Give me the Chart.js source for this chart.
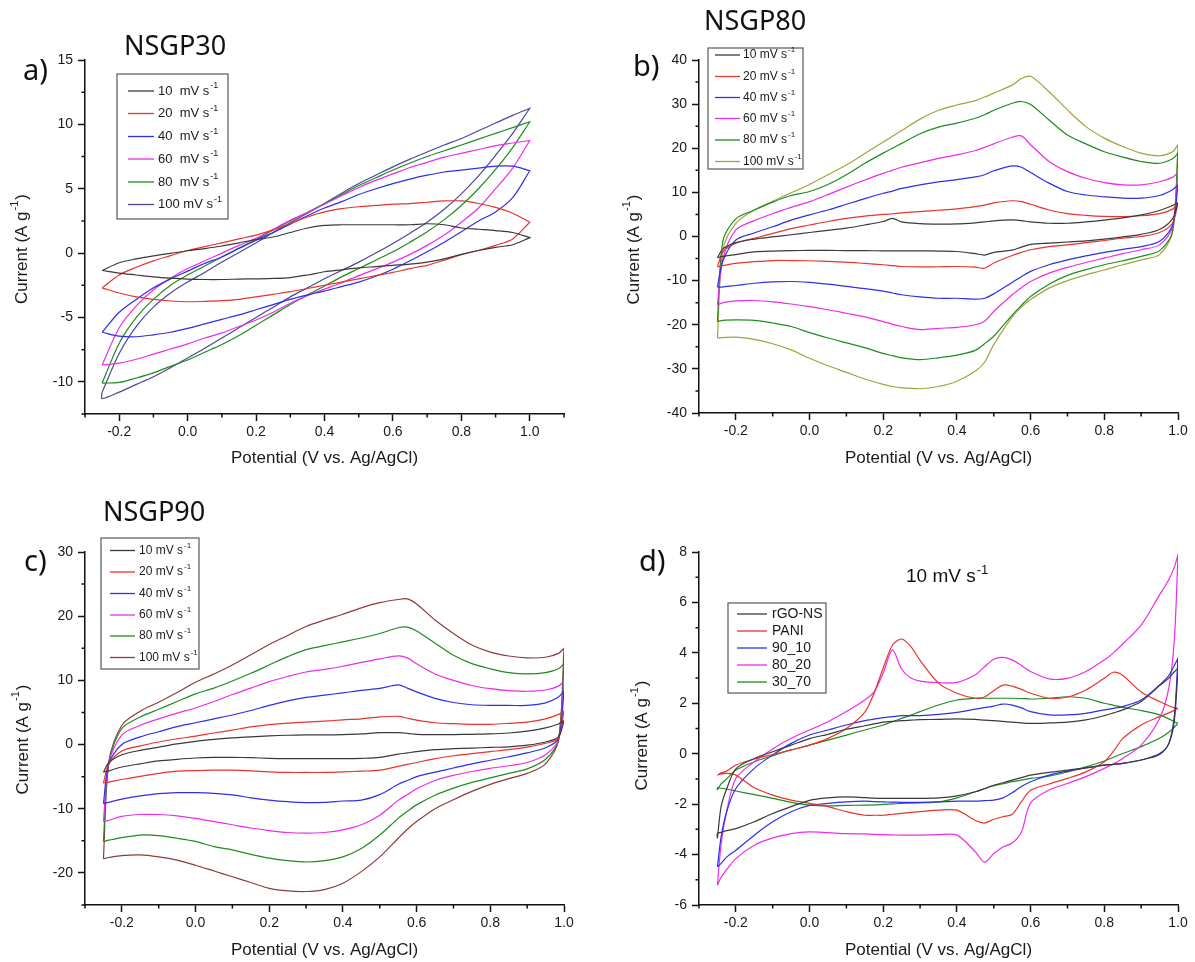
<!DOCTYPE html>
<html><head><meta charset="utf-8">
<script src="https://cdn.jsdelivr.net/npm/chart.js@4.4.1/dist/chart.umd.min.js"></script>
<style>
html,body{margin:0;padding:0;background:#fff;}
#wrap{position:relative;width:1195px;height:962px;overflow:hidden;background:#fff;}
canvas.layer{position:absolute;left:0;top:0;}
</style></head>
<body><div id="wrap">
<canvas id="cA" class="layer" width="1195" height="962"></canvas>
<canvas id="cB" class="layer" width="1195" height="962"></canvas>
<canvas id="cC" class="layer" width="1195" height="962"></canvas>
<canvas id="cD" class="layer" width="1195" height="962"></canvas>
</div>
<script>
// ---------------- tick values ----------------
const xTickValues = [-0.2, 0, 0.2, 0.4, 0.6, 0.8, 1.0];
const xMinorA = [-0.3, -0.1, 0.1, 0.3, 0.5, 0.7, 0.9, 1.1];
const xMinor = [-0.3, -0.1, 0.1, 0.3, 0.5, 0.7, 0.9];
const yTicksA = [-10, -5, 0, 5, 10, 15];
const yMinorA = [-12.5, -7.5, -2.5, 2.5, 7.5, 12.5];
const yTicksB = [-40, -30, -20, -10, 0, 10, 20, 30, 40];
const yMinorB = [-35, -25, -15, -5, 5, 15, 25, 35];
const yTicksC = [-20, -10, 0, 10, 20, 30];
const yMinorC = [-25, -15, -5, 5, 15, 25];
const yTicksD = [-6, -4, -2, 0, 2, 4, 6, 8];
const yMinorD = [-5, -3, -1, 1, 3, 5, 7];

// ---------------- labels ----------------
const scanLabelsA = ['10  mV s⁻¹', '20  mV s⁻¹', '40  mV s⁻¹', '60  mV s⁻¹', '80  mV s⁻¹', '100 mV s⁻¹'];
const scanLabels = ['10 mV s⁻¹', '20 mV s⁻¹', '40 mV s⁻¹', '60 mV s⁻¹', '80 mV s⁻¹', '100 mV s⁻¹'];
const sampleLabelsD = ['rGO-NS', 'PANI', '90_10', '80_20', '30_70'];

// ---------------- panel a: NSGP30 ----------------
const potentialA = [-0.25,-0.2,-0.15,-0.1,-0.05,0,0.05,0.1,0.15,0.2,0.25,0.3,0.35,0.4,0.45,0.5,0.55,0.6,0.65,0.7,0.75,0.8,0.85,0.9,0.95,1.0];
const a10Fwd = [-1.35,-0.75,-0.45,-0.22,-0.02,0.18,0.35,0.55,0.8,1.05,1.25,1.6,1.95,2.15,2.2,2.2,2.2,2.2,2.2,2.28,2.2,1.95,1.85,1.75,1.6,1.2];
const a10Rev = [-1.35,-1.55,-1.7,-1.85,-1.95,-2.02,-2.05,-2.05,-2.02,-2.0,-1.97,-1.9,-1.7,-1.45,-1.3,-1.15,-1.05,-0.95,-0.85,-0.7,-0.45,-0.1,0.2,0.45,0.65,1.2];
const a20Fwd = [-2.7,-1.7,-1.1,-0.6,-0.2,0.2,0.5,0.8,1.1,1.4,1.8,2.3,2.8,3.2,3.45,3.6,3.7,3.8,3.85,3.95,4.05,4.05,3.85,3.55,3.1,2.4];
const a20Rev = [-2.7,-3.1,-3.4,-3.6,-3.72,-3.78,-3.75,-3.7,-3.6,-3.4,-3.2,-3.0,-2.75,-2.5,-2.25,-2.0,-1.75,-1.5,-1.2,-0.95,-0.55,-0.13,0.2,0.6,1.1,2.4];
const a40Fwd = [-6.15,-4.6,-3.6,-2.7,-2.0,-1.4,-0.8,-0.3,0.35,1.0,1.6,2.25,2.9,3.5,4.0,4.55,5.0,5.4,5.75,6.05,6.3,6.45,6.6,6.75,6.75,6.4];
const a40Rev = [-6.15,-6.45,-6.5,-6.35,-6.15,-5.85,-5.5,-5.15,-4.8,-4.4,-4.0,-3.6,-3.25,-2.95,-2.6,-2.25,-1.8,-1.25,-0.6,0.1,0.85,1.65,2.5,3.2,4.3,6.4];
const a60Fwd = [-8.7,-5.8,-4.1,-2.85,-1.95,-1.2,-0.6,0.0,0.6,1.15,1.85,2.55,3.15,3.8,4.45,5.1,5.65,6.15,6.65,7.05,7.45,7.75,8.05,8.35,8.55,8.75];
const a60Rev = [-8.7,-8.55,-8.25,-7.85,-7.45,-7.05,-6.6,-6.2,-5.7,-5.2,-4.6,-3.9,-3.3,-2.8,-2.3,-1.75,-1.25,-0.7,-0.1,0.6,1.4,2.4,3.5,5.0,6.6,8.75];
const a80Fwd = [-10.1,-7.0,-5.0,-3.6,-2.5,-1.7,-1.0,-0.3,0.4,1.05,1.8,2.5,3.15,3.85,4.55,5.25,5.85,6.45,7.0,7.5,7.95,8.4,8.85,9.3,9.75,10.2];
const a80Rev = [-10.1,-10.05,-9.7,-9.3,-8.8,-8.3,-7.7,-7.1,-6.4,-5.6,-4.8,-4.0,-3.25,-2.55,-1.85,-1.2,-0.55,0.1,0.85,1.65,2.6,3.7,5.0,6.5,8.2,10.2];
const a100Fwd = [-10.8,-7.8,-5.7,-4.2,-3.1,-2.25,-1.5,-0.7,0.05,0.8,1.6,2.35,3.1,3.85,4.65,5.4,6.05,6.7,7.3,7.85,8.4,8.9,9.5,10.1,10.7,11.25];
const a100Rev = [-11.3,-10.8,-10.2,-9.6,-8.9,-8.15,-7.4,-6.6,-5.8,-5.0,-4.2,-3.4,-2.7,-2.0,-1.35,-0.7,0.0,0.75,1.55,2.4,3.4,4.6,6.0,7.6,9.3,11.25];

// ---------------- panel b: NSGP80 ----------------
const potentialB = [-0.25,-0.235,-0.2,-0.15,-0.1,-0.05,0,0.05,0.1,0.15,0.2,0.225,0.25,0.3,0.35,0.4,0.45,0.475,0.5,0.55,0.575,0.6,0.65,0.7,0.75,0.8,0.85,0.9,0.95,0.985,1.0];
const b10Fwd = [-4.8,-2.8,-1.4,-0.6,-0.1,0.4,0.9,1.4,1.9,2.6,3.4,4.1,3.3,2.9,2.8,2.85,3.1,3.3,3.55,3.75,3.6,3.3,3.0,3.0,3.3,3.7,4.2,4.9,5.9,7.0,7.6];
const b10Rev = [-4.8,-4.5,-4.1,-3.5,-3.3,-3.2,-3.15,-3.15,-3.2,-3.2,-3.25,-3.25,-3.25,-3.25,-3.3,-3.4,-3.9,-4.2,-3.6,-3.1,-2.4,-1.8,-1.5,-1.25,-1.0,-0.6,-0.1,0.5,1.6,4.0,7.6];
const b20Fwd = [-6.9,-3.5,-1.5,-0.4,0.7,1.8,2.6,3.4,4.1,4.6,5.0,5.15,5.35,5.65,5.95,6.25,6.75,7.1,7.6,8.1,7.9,7.3,6.0,5.2,4.8,4.55,4.5,4.7,5.2,6.2,7.6];
const b20Rev = [-6.9,-6.6,-6.1,-5.7,-5.45,-5.45,-5.5,-5.65,-5.8,-6.1,-6.4,-6.6,-6.8,-6.9,-6.85,-6.8,-6.95,-7.2,-6.0,-4.3,-3.6,-3.0,-2.3,-1.9,-1.4,-0.9,-0.4,0.0,0.9,3.0,7.6];
const b40Fwd = [-11.5,-5.5,-0.8,0.8,2.2,3.7,4.9,6.0,7.3,8.6,9.8,10.3,10.9,11.7,12.4,12.9,13.5,14.0,14.9,16.0,15.7,14.5,12.1,10.2,9.4,9.0,8.7,8.7,9.3,10.6,11.7];
const b40Rev = [-11.5,-11.4,-11.1,-10.6,-10.3,-10.2,-10.4,-10.8,-11.3,-11.8,-12.4,-12.8,-13.2,-13.7,-14.0,-14.0,-14.2,-14.0,-13.0,-10.4,-9.1,-7.9,-6.4,-5.3,-4.4,-3.6,-2.9,-2.3,-1.1,2.5,11.7];
const b60Fwd = [-15.5,-5.0,1.5,3.6,5.2,6.6,7.9,9.5,11.2,12.8,14.3,15.0,15.7,16.7,17.7,18.5,19.5,20.2,21.0,22.5,22.8,20.8,17.0,14.7,13.2,12.2,11.7,11.7,12.4,13.4,14.5];
const b60Rev = [-15.5,-15.0,-14.6,-14.5,-14.8,-15.3,-15.9,-16.6,-17.4,-18.2,-19.3,-19.9,-20.4,-21.1,-20.8,-20.6,-20.0,-19.2,-17.0,-13.2,-11.6,-10.2,-8.3,-7.0,-5.9,-4.9,-3.9,-3.0,-1.9,2.0,14.5];
const b80Fwd = [-19.3,-1.0,4.0,6.0,7.8,9.3,10.2,11.8,14.0,16.6,18.9,20.0,21.1,23.3,24.8,25.7,26.8,27.6,28.6,30.2,30.6,29.9,26.4,23.0,21.0,19.2,18.0,17.0,16.6,17.6,18.9];
const b80Rev = [-19.3,-19.0,-18.9,-19.0,-19.6,-20.4,-21.8,-23.0,-24.1,-25.2,-26.5,-27.0,-27.5,-27.9,-27.5,-26.9,-25.8,-24.3,-22.6,-17.8,-15.6,-13.6,-10.8,-8.8,-7.5,-6.4,-5.5,-4.5,-3.2,1.0,18.9];
const b100Fwd = [-23.0,-3.0,3.0,6.0,8.0,9.9,11.8,14.0,16.2,18.8,21.4,22.7,24.0,26.6,28.6,29.8,30.8,31.6,32.5,34.3,35.8,36.3,32.8,28.7,24.9,22.3,20.4,18.9,18.3,19.2,20.8];
const b100Rev = [-23.0,-22.9,-22.8,-23.3,-24.3,-25.7,-27.6,-29.3,-30.8,-32.3,-33.5,-34.0,-34.3,-34.5,-34.0,-32.8,-30.5,-28.5,-24.5,-18.2,-16.0,-14.3,-11.7,-10.0,-8.7,-7.6,-6.4,-5.3,-4.1,1.0,20.8];

// ---------------- panel c: NSGP90 ----------------
const potentialC = [-0.25,-0.235,-0.2,-0.15,-0.1,-0.05,0,0.05,0.1,0.15,0.2,0.25,0.3,0.35,0.4,0.45,0.5,0.55,0.575,0.6,0.65,0.7,0.75,0.8,0.85,0.9,0.95,0.985,1.0];
const c10Fwd = [-4.3,-2.8,-1.6,-0.9,-0.4,0.1,0.5,0.8,1.05,1.2,1.35,1.45,1.5,1.5,1.55,1.65,1.85,1.85,1.75,1.6,1.55,1.55,1.6,1.65,1.8,2.1,2.6,3.2,3.7];
const c10Rev = [-4.3,-4.1,-3.5,-3.0,-2.55,-2.3,-2.1,-2.0,-2.0,-2.05,-2.15,-2.2,-2.2,-2.2,-2.2,-2.15,-2.0,-1.5,-1.3,-1.1,-0.8,-0.65,-0.55,-0.45,-0.35,-0.1,0.4,1.2,3.7];
const c20Fwd = [-6.0,-3.0,-1.0,-0.2,0.4,0.9,1.3,1.8,2.25,2.75,3.1,3.35,3.5,3.65,3.85,4.0,4.3,4.4,4.1,3.8,3.4,3.25,3.15,3.15,3.3,3.5,4.0,4.7,5.2];
const c20Rev = [-6.0,-5.85,-5.45,-4.95,-4.5,-4.15,-4.05,-4.0,-4.0,-4.1,-4.25,-4.35,-4.35,-4.35,-4.25,-4.15,-4.0,-3.4,-3.1,-2.8,-2.2,-1.75,-1.4,-1.1,-0.8,-0.4,0.2,1.0,5.2];
const c40Fwd = [-9.2,-2.9,0.0,1.2,2.0,2.8,3.4,4.0,4.6,5.3,6.1,6.8,7.35,7.7,8.05,8.45,8.75,9.3,8.8,8.2,7.2,6.55,6.2,6.1,6.1,6.1,6.5,7.4,8.3];
const c40Rev = [-9.2,-9.0,-8.5,-8.0,-7.65,-7.5,-7.5,-7.6,-7.85,-8.3,-8.65,-8.9,-9.05,-9.0,-8.8,-8.65,-7.8,-6.2,-5.6,-5.0,-4.3,-3.65,-3.0,-2.45,-1.9,-1.3,-0.5,0.9,8.3];
const c60Fwd = [-12.0,-2.8,1.5,3.0,4.0,4.9,5.7,6.7,7.8,8.8,9.8,10.6,11.3,11.7,12.2,12.8,13.35,13.8,13.5,12.6,11.0,10.0,9.2,8.7,8.4,8.3,8.5,9.1,9.9];
const c60Rev = [-12.0,-11.8,-11.2,-10.9,-10.9,-11.1,-11.5,-12.0,-12.5,-13.0,-13.4,-13.7,-13.8,-13.7,-13.3,-12.5,-11.0,-8.7,-7.8,-6.9,-5.6,-4.8,-4.2,-3.7,-3.3,-2.8,-1.6,0.8,9.9];
const c80Fwd = [-15.1,-2.7,2.5,4.3,5.5,6.7,7.9,8.8,9.9,11.1,12.4,13.7,14.8,15.4,16.0,16.6,17.3,18.2,18.3,17.7,15.8,13.9,12.6,11.8,11.2,11.0,11.2,11.8,12.6];
const c80Rev = [-15.1,-14.9,-14.5,-14.1,-14.2,-14.6,-15.1,-15.9,-16.4,-17.1,-17.7,-18.1,-18.3,-18.1,-17.5,-16.2,-14.1,-11.5,-10.4,-9.4,-7.9,-6.8,-5.9,-5.2,-4.5,-3.8,-2.3,0.7,12.6];
const c100Fwd = [-17.8,-2.6,3.0,5.2,6.6,8.1,9.7,11.0,12.4,14.0,15.6,17.0,18.4,19.4,20.3,21.3,22.1,22.6,22.7,21.9,19.4,17.3,15.5,14.4,13.8,13.5,13.6,14.2,15.0];
const c100Rev = [-17.8,-17.6,-17.3,-17.2,-17.5,-18.0,-18.8,-19.7,-20.6,-21.5,-22.4,-22.8,-22.9,-22.6,-21.6,-19.8,-17.5,-14.6,-13.2,-12.0,-10.0,-8.6,-7.3,-6.2,-5.3,-4.5,-3.0,0.7,15.0];

// ---------------- panel d: 10 mV/s comparison ----------------
const potentialD = [-0.25,-0.24,-0.225,-0.2,-0.15,-0.1,-0.05,0,0.05,0.1,0.15,0.175,0.2,0.225,0.25,0.275,0.3,0.35,0.4,0.45,0.475,0.5,0.525,0.55,0.575,0.6,0.65,0.7,0.75,0.8,0.825,0.85,0.9,0.95,0.975,0.99,1.0];
const dRgoFwd = [-3.36,-2.1,-1.4,-0.6,-0.19,0.08,0.34,0.6,0.77,0.97,1.11,1.18,1.25,1.28,1.31,1.33,1.35,1.36,1.38,1.36,1.33,1.31,1.28,1.25,1.22,1.2,1.22,1.25,1.34,1.51,1.62,1.74,2.07,2.7,3.0,3.25,3.39];
const dRgoRev = [-3.15,-3.12,-3.05,-2.97,-2.7,-2.37,-2.1,-1.85,-1.75,-1.71,-1.74,-1.76,-1.77,-1.77,-1.77,-1.77,-1.77,-1.75,-1.67,-1.51,-1.38,-1.25,-1.15,-1.05,-0.95,-0.85,-0.74,-0.65,-0.56,-0.45,-0.42,-0.38,-0.25,-0.03,0.4,1.3,3.39];
const dPaniFwd = [-0.85,-0.76,-0.69,-0.45,-0.21,-0.03,0.15,0.34,0.61,1.0,1.65,2.4,3.4,4.3,4.55,4.25,3.7,2.8,2.4,2.2,2.25,2.5,2.72,2.68,2.55,2.4,2.2,2.25,2.53,2.99,3.23,3.1,2.45,2.07,1.9,1.82,1.8];
const dPaniRev = [-0.85,-0.8,-0.78,-0.85,-1.35,-1.64,-1.84,-1.97,-2.1,-2.3,-2.44,-2.44,-2.44,-2.4,-2.37,-2.33,-2.3,-2.24,-2.24,-2.65,-2.75,-2.6,-2.5,-2.4,-1.9,-1.45,-1.2,-0.98,-0.72,-0.32,0.1,0.6,1.14,1.47,1.62,1.72,1.8];
const d9010Fwd = [-4.49,-3.3,-2.3,-1.38,-0.58,-0.05,0.41,0.74,0.94,1.14,1.31,1.37,1.43,1.47,1.51,1.51,1.51,1.56,1.64,1.77,1.83,1.89,1.97,1.93,1.82,1.67,1.54,1.54,1.6,1.74,1.8,1.87,2.13,2.73,3.1,3.5,3.79];
const d9010Rev = [-4.49,-4.35,-4.1,-3.83,-3.23,-2.7,-2.3,-2.05,-1.97,-1.91,-1.88,-1.9,-1.91,-1.92,-1.93,-1.93,-1.93,-1.91,-1.88,-1.88,-1.86,-1.84,-1.75,-1.55,-1.3,-1.11,-0.85,-0.69,-0.56,-0.45,-0.42,-0.38,-0.25,0.01,0.4,1.5,3.79];
const d8020Fwd = [-5.22,-3.6,-2.3,-0.98,-0.32,0.19,0.61,0.94,1.27,1.67,2.13,2.45,3.2,4.12,3.35,3.0,2.88,2.82,2.83,3.13,3.45,3.75,3.82,3.72,3.5,3.26,2.97,2.99,3.26,3.72,4.0,4.35,5.1,6.3,6.9,7.4,7.89];
const d8020Rev = [-5.22,-4.9,-4.6,-4.16,-3.63,-3.34,-3.17,-3.1,-3.13,-3.17,-3.18,-3.2,-3.21,-3.22,-3.23,-3.23,-3.23,-3.21,-3.23,-3.89,-4.3,-3.96,-3.7,-3.54,-3.1,-1.95,-1.44,-1.18,-0.91,-0.58,-0.4,-0.19,0.34,1.4,2.6,4.5,7.89];
const d3070Fwd = [-1.44,-1.2,-1.0,-0.65,-0.32,-0.08,0.15,0.34,0.54,0.74,0.94,1.04,1.14,1.27,1.4,1.53,1.67,1.93,2.13,2.2,2.2,2.2,2.2,2.2,2.19,2.17,2.2,2.26,2.2,2.0,1.92,1.84,1.71,1.54,1.38,1.27,1.21];
const d3070Rev = [-1.35,-1.37,-1.4,-1.48,-1.62,-1.77,-1.93,-2.04,-2.07,-2.05,-2.04,-2.03,-2.01,-1.99,-1.97,-1.96,-1.95,-1.91,-1.75,-1.51,-1.39,-1.27,-1.19,-1.11,-1.05,-0.98,-0.89,-0.72,-0.52,-0.29,-0.14,0.01,0.28,0.61,0.85,1.05,1.21];

// ---------------- colours ----------------
const C_BLACK = '#3a3a3a', C_RED = '#e8342c', C_BLUE = '#2f2fe8', C_MAG = '#ec2cec', C_GREEN = '#1e8c1e';
const C_NAVY = '#4a4a96', C_OLIVE = '#a3a33c', C_WINE = '#8e3b3b';

// ---------------- helpers ----------------
const W = 1195, H = 962;
const FAMILY = "'Liberation Sans', Arial, Helvetica, sans-serif";
Chart.defaults.font.family = FAMILY;
Chart.defaults.color = '#1a1a1a';
const Y_TITLE = 'Current (A g⁻¹)';
const X_TITLE = 'Potential (V vs. Ag/AgCl)';

function loop(pot, fwd, rev) {
  const pts = pot.map((x, i) => ({x: x, y: fwd[i]}));
  for (let i = pot.length - 1; i >= 0; i--) pts.push({x: pot[i], y: rev[i]});
  pts.push({x: pot[0], y: fwd[0]});
  return pts;
}
function ds(label, color, pot, fwd, rev) {
  return {label: label, data: loop(pot, fwd, rev), borderColor: color, backgroundColor: color,
          borderWidth: 1.2, pointRadius: 0, showLine: true, tension: 0.3, fill: false};
}
function drawRich(ctx, text, x, y, size, family, color, baseline) {
  let base = text, sup = '';
  if (text.endsWith('⁻¹')) { base = text.slice(0, -2); sup = '-1'; }
  ctx.fillStyle = color;
  ctx.textAlign = 'left';
  ctx.textBaseline = baseline;
  ctx.font = size + 'px ' + family;
  ctx.fillText(base, x, y);
  if (sup) {
    const w = ctx.measureText(base).width;
    ctx.font = Math.round(size * 0.68) + 'px ' + family;
    ctx.fillText(sup, x + w + 1, y - size * 0.42);
  }
}

const minorTickPlugin = {
  id: 'minorTicks',
  afterDraw(chart, args, o) {
    const ctx = chart.ctx, xs = chart.scales.x, ys = chart.scales.y;
    ctx.save();
    ctx.strokeStyle = '#111'; ctx.lineWidth = 1.5;
    ctx.beginPath();
    (o.x || []).forEach(v => { const p = xs.getPixelForValue(v); ctx.moveTo(p, xs.top); ctx.lineTo(p, xs.top + o.len); });
    (o.y || []).forEach(v => { const p = ys.getPixelForValue(v); ctx.moveTo(ys.right, p); ctx.lineTo(ys.right - o.len, p); });
    ctx.stroke();
    ctx.restore();
  }
};

const boxLegendPlugin = {
  id: 'boxLegend',
  afterDraw(chart, args, o) {
    if (!o || !o.box) return;
    const ctx = chart.ctx, b = o.box;
    ctx.save();
    ctx.fillStyle = '#fff';
    ctx.fillRect(b[0], b[1], b[2] - b[0], b[3] - b[1]);
    ctx.strokeStyle = '#666'; ctx.lineWidth = 1.3;
    ctx.strokeRect(b[0], b[1], b[2] - b[0], b[3] - b[1]);
    chart.data.datasets.forEach((d, i) => {
      const y = o.rows[i];
      ctx.strokeStyle = d.borderColor; ctx.lineWidth = 1.3;
      ctx.beginPath(); ctx.moveTo(o.line[0], y); ctx.lineTo(o.line[1], y); ctx.stroke();
      drawRich(ctx, d.label, o.textX, y, o.size, FAMILY, '#1a1a1a', 'middle');
    });
    ctx.restore();
  }
};

const panelTextPlugin = {
  id: 'panelText',
  afterDraw(chart, args, o) {
    const ctx = chart.ctx;
    ctx.save();
    (o.items || []).forEach(t => drawRich(ctx, t.text, t.x, t.y, t.size, t.family, '#111', 'alphabetic'));
    ctx.restore();
  }
};

// y-axis title drawn through the scale's own geometry (rotated, centred at yTitleX / yTitleY)
const yTitlePlugin = {
  id: 'yTitle',
  afterDraw(chart, args, o) {
    const ctx = chart.ctx, ys = chart.scales.y;
    const cy = (ys.top + ys.bottom) / 2 + o.shift;
    ctx.save();
    ctx.translate(o.x, cy);
    ctx.rotate(-Math.PI / 2);
    ctx.font = '17px ' + FAMILY;
    const base = Y_TITLE.slice(0, -3), sup = '-1', tail = ')';
    ctx.font = '17px ' + FAMILY;
    const wb = ctx.measureText(base).width;
    ctx.font = '11px ' + FAMILY;
    const ws = ctx.measureText(sup).width;
    ctx.font = '17px ' + FAMILY;
    const wt = ctx.measureText(tail).width;
    const total = wb + ws + wt + 2;
    let x0 = -total / 2;
    ctx.fillStyle = '#1a1a1a';
    ctx.textBaseline = 'middle';
    ctx.textAlign = 'left';
    ctx.fillText(base, x0, 0);
    ctx.font = '11px ' + FAMILY;
    ctx.fillText(sup, x0 + wb + 1, -7);
    ctx.font = '17px ' + FAMILY;
    ctx.fillText(tail, x0 + wb + ws + 2, 0);
    ctx.restore();
  }
};

function makePanel(id, p) {
  const XH = 57, LH = 17 * 1.2;
  const padLeft = p.area.l - p.yW;
  return new Chart(document.getElementById(id), {
    type: 'scatter',
    data: {datasets: p.datasets},
    options: {
      responsive: false, animation: false, events: [],
      layout: {padding: {left: padLeft, top: p.area.t, right: W - p.area.r, bottom: H - p.area.b - XH}},
      plugins: {
        legend: {display: false}, tooltip: {enabled: false},
        minorTicks: {x: p.xMinor, y: p.yMinor, len: 3.5},
        boxLegend: p.legend,
        panelText: {items: p.texts},
        yTitle: {x: p.yTitleX, shift: p.yTitleShift}
      },
      scales: {
        x: {
          type: 'linear', position: 'bottom', min: p.xMin, max: p.xMax,
          afterFit: s => { s.height = XH; },
          afterBuildTicks: s => { s.ticks = xTickValues.map(v => ({value: v})); },
          grid: {drawOnChartArea: false, drawTicks: true, tickLength: 7, tickColor: '#111', tickWidth: 1.5},
          border: {display: true, color: '#111', width: 1.5},
          ticks: {callback: v => Number(v).toFixed(1), font: {size: 14}, color: '#1a1a1a', padding: 3, maxRotation: 0, autoSkip: false},
          title: {display: true, text: X_TITLE, font: {size: 17}, color: '#1a1a1a',
                  padding: {top: 0, bottom: (p.area.b + XH) - p.xTitleY - LH / 2}}
        },
        y: {
          type: 'linear', position: 'left', min: p.yMin, max: p.yMax,
          afterFit: s => { s.width = p.yW; },
          afterBuildTicks: s => { s.ticks = p.yTicks.map(v => ({value: v})); },
          grid: {drawOnChartArea: false, drawTicks: true, tickLength: 7, tickColor: '#111', tickWidth: 1.5},
          border: {display: true, color: '#111', width: 1.5},
          ticks: {callback: v => String(v), font: {size: 14}, color: '#1a1a1a', padding: 5, autoSkip: false},
          title: {display: false, text: Y_TITLE}
        }
      }
    },
    plugins: [minorTickPlugin, boxLegendPlugin, panelTextPlugin, yTitlePlugin]
  });
}

const TITLE_FONT = "'Noto Sans', 'Open Sans', sans-serif";

makePanel('cA', {
  area: {l: 85, t: 60, r: 564, b: 414}, yW: 85, yTitleX: 22, yTitleShift: 12, xTitleY: 458,
  xMin: -0.3, xMax: 1.1, yMin: -12.5, yMax: 15, yTicks: yTicksA, xMinor: xMinorA, yMinor: yMinorA,
  datasets: [
    ds(scanLabelsA[0], C_BLACK, potentialA, a10Fwd, a10Rev),
    ds(scanLabelsA[1], C_RED, potentialA, a20Fwd, a20Rev),
    ds(scanLabelsA[2], C_BLUE, potentialA, a40Fwd, a40Rev),
    ds(scanLabelsA[3], C_MAG, potentialA, a60Fwd, a60Rev),
    ds(scanLabelsA[4], C_GREEN, potentialA, a80Fwd, a80Rev),
    ds(scanLabelsA[5], C_NAVY, potentialA, a100Fwd, a100Rev)
  ],
  legend: {box: [117, 74, 228, 219], rows: [91, 113.5, 136.5, 159, 182, 204.5], line: [128, 154], textX: 158, size: 13},
  texts: [
    {text: 'a)', x: 23, y: 80, size: 29, family: TITLE_FONT},
    {text: 'NSGP30', x: 124, y: 55, size: 27, family: TITLE_FONT}
  ]
});

makePanel('cB', {
  area: {l: 699, t: 60, r: 1178, b: 413}, yW: 102, yTitleX: 634, yTitleShift: 13, xTitleY: 458,
  xMin: -0.3, xMax: 1.0, yMin: -40, yMax: 40, yTicks: yTicksB, xMinor: xMinor, yMinor: yMinorB,
  datasets: [
    ds(scanLabels[0], C_BLACK, potentialB, b10Fwd, b10Rev),
    ds(scanLabels[1], C_RED, potentialB, b20Fwd, b20Rev),
    ds(scanLabels[2], C_BLUE, potentialB, b40Fwd, b40Rev),
    ds(scanLabels[3], C_MAG, potentialB, b60Fwd, b60Rev),
    ds(scanLabels[4], C_GREEN, potentialB, b80Fwd, b80Rev),
    ds(scanLabels[5], C_OLIVE, potentialB, b100Fwd, b100Rev)
  ],
  legend: {box: [708, 48, 803, 169], rows: [55, 76.5, 97.5, 118.5, 140, 161.5], line: [715, 740], textX: 743, size: 12},
  texts: [
    {text: 'b)', x: 633, y: 76, size: 29, family: TITLE_FONT},
    {text: 'NSGP80', x: 704, y: 30, size: 27, family: TITLE_FONT}
  ]
});

makePanel('cC', {
  area: {l: 85, t: 552, r: 564, b: 905}, yW: 85, yTitleX: 23, yTitleShift: 11, xTitleY: 950,
  xMin: -0.3, xMax: 1.0, yMin: -25, yMax: 30, yTicks: yTicksC, xMinor: xMinor, yMinor: yMinorC,
  datasets: [
    ds(scanLabels[0], C_BLACK, potentialC, c10Fwd, c10Rev),
    ds(scanLabels[1], C_RED, potentialC, c20Fwd, c20Rev),
    ds(scanLabels[2], C_BLUE, potentialC, c40Fwd, c40Rev),
    ds(scanLabels[3], C_MAG, potentialC, c60Fwd, c60Rev),
    ds(scanLabels[4], C_GREEN, potentialC, c80Fwd, c80Rev),
    ds(scanLabels[5], C_WINE, potentialC, c100Fwd, c100Rev)
  ],
  legend: {box: [101, 538, 199, 669], rows: [550.5, 572, 593.5, 615, 636, 657.5], line: [110, 135], textX: 139, size: 12},
  texts: [
    {text: 'c)', x: 24, y: 571, size: 29, family: TITLE_FONT},
    {text: 'NSGP90', x: 103, y: 521, size: 27, family: TITLE_FONT}
  ]
});

makePanel('cD', {
  area: {l: 699, t: 552, r: 1178, b: 905}, yW: 102, yTitleX: 642, yTitleShift: 7, xTitleY: 950,
  xMin: -0.3, xMax: 1.0, yMin: -6, yMax: 8, yTicks: yTicksD, xMinor: xMinor, yMinor: yMinorD,
  datasets: [
    ds(sampleLabelsD[0], C_BLACK, potentialD, dRgoFwd, dRgoRev),
    ds(sampleLabelsD[1], C_RED, potentialD, dPaniFwd, dPaniRev),
    ds(sampleLabelsD[2], C_BLUE, potentialD, d9010Fwd, d9010Rev),
    ds(sampleLabelsD[3], C_MAG, potentialD, d8020Fwd, d8020Rev),
    ds(sampleLabelsD[4], C_GREEN, potentialD, d3070Fwd, d3070Rev)
  ],
  legend: {box: [728, 603, 826, 693], rows: [614, 631, 648, 665, 682], line: [737, 767], textX: 772, size: 14},
  texts: [
    {text: 'd)', x: 639, y: 571, size: 29, family: TITLE_FONT},
    {text: '10 mV s⁻¹', x: 906, y: 582, size: 19, family: FAMILY}
  ]
});
</script>
</body></html>
